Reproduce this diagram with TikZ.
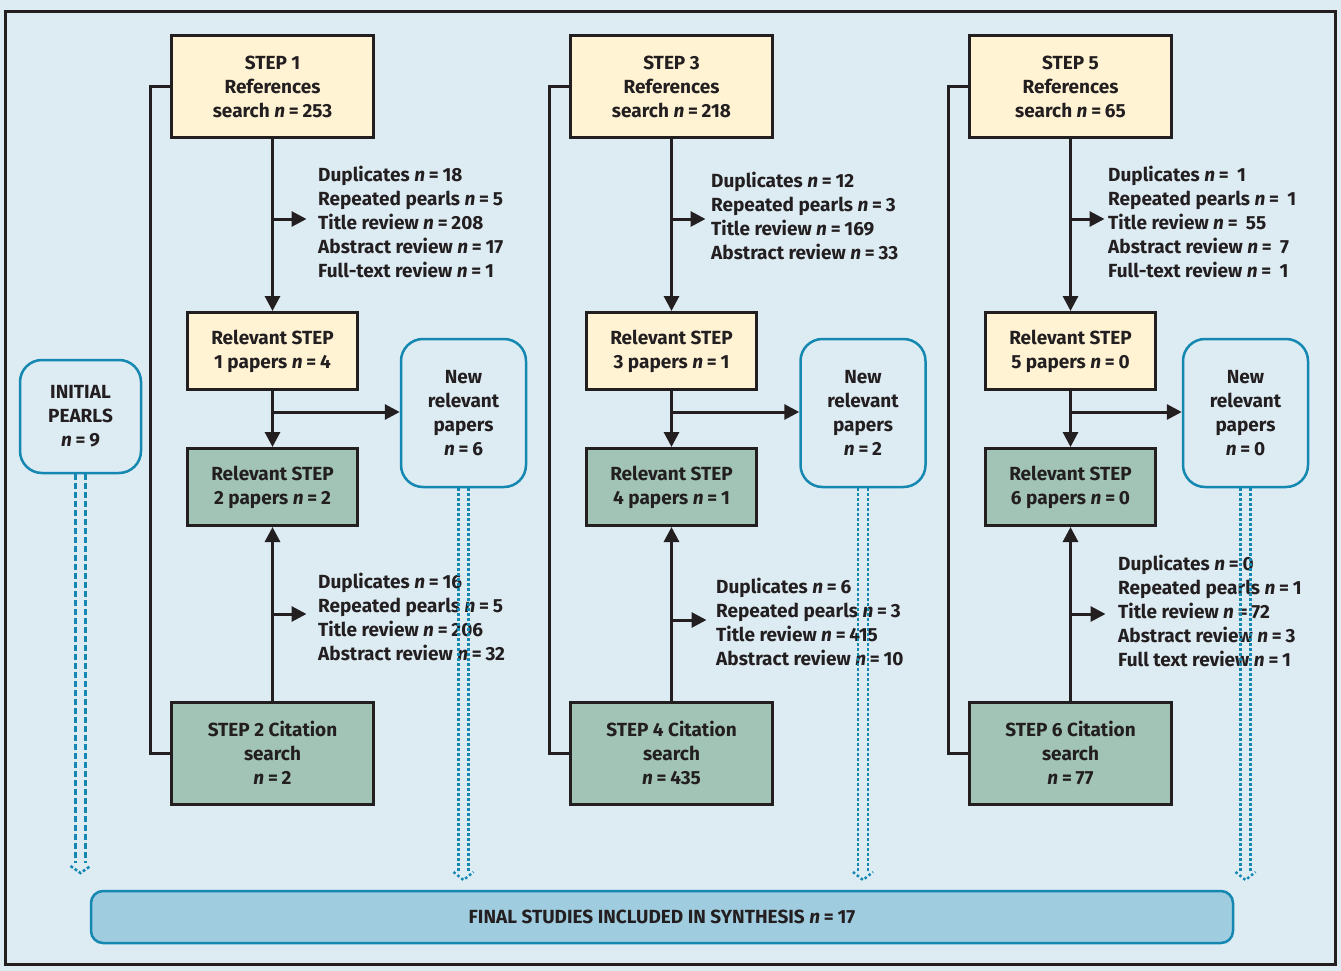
\documentclass[tikz,border=0pt]{standalone}
\usepackage{fontspec}
\setmainfont{Fira Sans}
\usetikzlibrary{arrows.meta}
\definecolor{bgblue}{RGB}{221,235,243}
\definecolor{refyellow}{RGB}{255,243,212}
\definecolor{citegreen}{RGB}{162,196,182}
\definecolor{pearl}{RGB}{20,136,176}
\definecolor{finalblue}{RGB}{160,204,224}
\definecolor{ink}{RGB}{35,31,32}
\newcommand{\nn}[1]{\textit{n}\hspace{0.2em}=\hspace{0.2em}#1}
\tikzstyle{box}=[draw=ink, line width=3pt, align=center, inner sep=2pt, text=ink, font=\fontsize{19}{24}\selectfont\bfseries]
\tikzstyle{refbox}=[box, fill=refyellow, minimum width=202pt, minimum height=102pt]
\tikzstyle{relbox}=[box, fill=refyellow, minimum width=170pt, minimum height=77pt]
\tikzstyle{relgbox}=[box, fill=citegreen, minimum width=170pt, minimum height=77pt]
\tikzstyle{citebox}=[box, fill=citegreen, minimum width=202pt, minimum height=102pt]
\tikzstyle{newbox}=[box, draw=pearl, line width=2.5pt, rounded corners=22pt, fill=bgblue, minimum width=125pt, minimum height=148pt]
\tikzstyle{finalbox}=[box, draw=pearl, line width=2.5pt, rounded corners=12pt, fill=finalblue, minimum width=1142pt, minimum height=52pt]
\tikzstyle{note}=[anchor=west, align=left, inner sep=0pt, text=ink, font=\fontsize{19}{24}\selectfont\bfseries]
\tikzstyle{arr}=[-{Triangle[length=15pt,width=15pt]}, line width=3pt, draw=ink]
\tikzstyle{common}=[line width=3pt, draw=ink]
\tikzstyle{dashpipe}=[draw=pearl, line width=2.5pt, dash pattern=on 6pt off 3pt]
\tikzstyle{dotpipe}=[draw=pearl, line width=2.5pt, dash pattern=on 2.5pt off 2.5pt]

\begin{document}
\begin{tikzpicture}[x=1pt,y=-1pt]
            \fill[bgblue] (0,0) rectangle (1341,971);
            \useasboundingbox (0,0) rectangle (1341,971);
            \draw[ink, line width=3pt] (5,12) rectangle (1335,964);

            \node[refbox] (s1) at (272.5, 86.5) {STEP 1\\References\\search \nn{253}};
            \node[relbox] (r1) at (272.5, 351) {Relevant STEP\\1 papers \nn{4}};
            \node[relgbox] (r2) at (272.5, 487) {Relevant STEP\\2 papers \nn{2}};
            \node[citebox] (s2) at (272.5, 753) {STEP 2 Citation\\search\\\nn{2}};
            \node[newbox] (new1) at (463.5, 413) {New\\relevant\\papers\\\nn{6}};

            \node[refbox] (s3) at (671.5, 86.5) {STEP 3\\References\\search \nn{218}};
            \node[relbox] (r3) at (671.5, 351) {Relevant STEP\\3 papers \nn{1}};
            \node[relgbox] (r4) at (671.5, 487) {Relevant STEP\\4 papers \nn{1}};
            \node[citebox] (s4) at (671.5, 753) {STEP 4 Citation\\search\\\nn{435}};
            \node[newbox] (new2) at (863, 413) {New\\relevant\\papers\\\nn{2}};

            \node[refbox] (s5) at (1070.5, 86.5) {STEP 5\\References\\search \nn{65}};
            \node[relbox] (r5) at (1070.5, 351) {Relevant STEP\\5 papers \nn{0}};
            \node[relgbox] (r6) at (1070.5, 487) {Relevant STEP\\6 papers \nn{0}};
            \node[citebox] (s6) at (1070.5, 753) {STEP 6 Citation\\search\\\nn{77}};
            \node[newbox] (new3) at (1245.5, 413) {New\\relevant\\papers\\\nn{0}};

            \node[newbox, minimum height=113pt, minimum width=121pt] (init) at (80.5, 416.5) {INITIAL\\PEARLS\\\nn{9}};
            \node[finalbox] (final) at (662, 917) {FINAL STUDIES INCLUDED IN SYNTHESIS \nn{17}};

            \node[note] (d1) at (318, 222) {Duplicates \nn{18}\\Repeated pearls \nn{5}\\Title review \nn{208}\\Abstract review \nn{17}\\Full-text review \nn{1}};
            \node[note] (e1) at (318, 617) {Duplicates \nn{16}\\Repeated pearls \nn{5}\\Title review \nn{206}\\Abstract review \nn{32}};
            \node[note] (d2) at (711, 216) {Duplicates \nn{12}\\Repeated pearls \nn{3}\\Title review \nn{169}\\Abstract review \nn{33}};
            \node[note] (e2) at (716, 622) {Duplicates \nn{6}\\Repeated pearls \nn{3}\\Title review \nn{415}\\Abstract review \nn{10}};
            \node[note] (d3) at (1108, 222) {Duplicates \nn{~1}\\Repeated pearls \nn{~1}\\Title review \nn{~55}\\Abstract review \nn{~7}\\Full-text review \nn{~1}};
            \node[note] (e3) at (1118, 610.5) {Duplicates \nn{0}\\Repeated pearls \nn{1}\\Title review \nn{72}\\Abstract review \nn{3}\\Full text review \nn{1}};

            \coordinate (b1) at (272.5, 219);
            \coordinate (j1) at (272.5, 412);
            \coordinate (c1) at (272.5, 614);
            \coordinate (b2) at (671.5, 219);
            \coordinate (j2) at (671.5, 412);
            \coordinate (c2) at (671.5, 620);
            \coordinate (b3) at (1070.5, 219);
            \coordinate (j3) at (1070.5, 412);
            \coordinate (c3) at (1070.5, 614);

            \draw[arr] (s1) -- (r1);
            \draw[arr] (b1) -- ++(34,0);
            \draw[arr] (r1) -- (r2);
            \draw[arr] (j1) -- (j1 -| new1.west);
            \draw[arr] (s2) -- (r2);
            \draw[arr] (c1) -- ++(34,0);
            \draw[common] (s1.west) -- ++(-20,0) |- (s2.west);

            \draw[arr] (s3) -- (r3);
            \draw[arr] (b2) -- ++(34,0);
            \draw[arr] (r3) -- (r4);
            \draw[arr] (j2) -- (j2 -| new2.west);
            \draw[arr] (s4) -- (r4);
            \draw[arr] (c2) -- ++(35,0);
            \draw[common] (s3.west) -- ++(-20,0) |- (s4.west);

            \draw[arr] (s5) -- (r5);
            \draw[arr] (b3) -- ++(34,0);
            \draw[arr] (r5) -- (r6);
            \draw[arr] (j3) -- (j3 -| new3.west);
            \draw[arr] (s6) -- (r6);
            \draw[arr] (c3) -- ++(35,0);
            \draw[common] (s5.west) -- ++(-20,0) |- (s6.west);

            \coordinate (p0) at (init.south |- 0,873);
            \coordinate (p1) at (new1.south |- 0,880);
            \coordinate (p2) at (new2.south |- 0,880);
            \coordinate (p3) at (new3.south |- 0,880);

            \draw[dashpipe] ([xshift=-5pt]init.south) -- ([xshift=-5pt,yshift=10pt]p0);
            \draw[dashpipe] ([xshift=5pt]init.south) -- ([xshift=5pt,yshift=10pt]p0);
            \draw[dashpipe, dash pattern=on 3pt off 2pt] ([xshift=-10pt,yshift=7pt]p0) -- (p0) -- ([xshift=10pt,yshift=7pt]p0);

            \draw[dotpipe] ([xshift=-5pt]new1.south) -- ([xshift=-5pt,yshift=8pt]p1);
            \draw[dotpipe] ([xshift=5pt]new1.south) -- ([xshift=5pt,yshift=8pt]p1);
            \draw[dotpipe] ([xshift=-10pt,yshift=8pt]p1) -- (p1) -- ([xshift=10pt,yshift=8pt]p1);

            \draw[dotpipe] ([xshift=-5pt]new2.south) -- ([xshift=-5pt,yshift=8pt]p2);
            \draw[dotpipe] ([xshift=5pt]new2.south) -- ([xshift=5pt,yshift=8pt]p2);
            \draw[dotpipe] ([xshift=-10pt,yshift=8pt]p2) -- (p2) -- ([xshift=10pt,yshift=8pt]p2);

            \draw[dotpipe] ([xshift=-5pt]new3.south) -- ([xshift=-5pt,yshift=8pt]p3);
            \draw[dotpipe] ([xshift=5pt]new3.south) -- ([xshift=5pt,yshift=8pt]p3);
            \draw[dotpipe] ([xshift=-10pt,yshift=8pt]p3) -- (p3) -- ([xshift=10pt,yshift=8pt]p3);
        \end{tikzpicture}
\end{document}
